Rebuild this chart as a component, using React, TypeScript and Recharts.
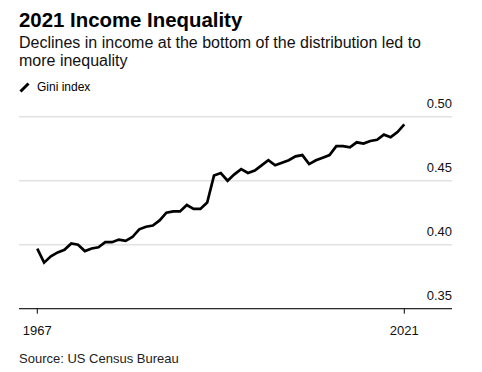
import { CartesianGrid, Line, LineChart, XAxis, YAxis } from 'recharts';

const FONT = '"Liberation Sans", Arial, sans-serif';

const anios = [
  1967, 1968, 1969, 1970, 1971, 1972, 1973, 1974, 1975, 1976,
  1977, 1978, 1979, 1980, 1981, 1982, 1983, 1984, 1985, 1986,
  1987, 1988, 1989, 1990, 1991, 1992, 1993, 1994, 1995, 1996,
  1997, 1998, 1999, 2000, 2001, 2002, 2003, 2004, 2005, 2006,
  2007, 2008, 2009, 2010, 2011, 2012, 2013, 2014, 2015, 2016,
  2017, 2018, 2019, 2020, 2021,
];

const gini = [
  0.397, 0.386, 0.391, 0.394, 0.396, 0.401, 0.400, 0.395, 0.397, 0.398,
  0.402, 0.402, 0.404, 0.403, 0.406, 0.412, 0.414, 0.415, 0.419, 0.425,
  0.426, 0.426, 0.431, 0.428, 0.428, 0.433, 0.454, 0.456, 0.450, 0.455,
  0.459, 0.456, 0.458, 0.462, 0.466, 0.462, 0.464, 0.466, 0.469, 0.470,
  0.463, 0.466, 0.468, 0.470, 0.477, 0.477, 0.476, 0.480, 0.479, 0.481,
  0.482, 0.486, 0.484, 0.488, 0.494,
];

const ticksX = [1967, 2021];
const ticksY = [0.35, 0.4, 0.45, 0.5];

const datos = anios.map((year, i) => ({ year, gini: gini[i] }));

// etiqueta del eje Y: encima de la línea de cuadrícula, alineada a la derecha
function TickY({ x, y, payload }: any) {
  return (
    <text x={x} y={y - 8.4} textAnchor="end" fill="#111" fontSize={13} fontFamily={FONT}>
      {payload.value.toFixed(2)}
    </text>
  );
}

export default function App() {
  return (
    <div
      style={{
        position: 'absolute',
        left: 0,
        top: 0,
        width: 482,
        height: 372,
        background: '#fff',
        fontFamily: FONT,
        color: '#000',
      }}
    >
      <div style={{ position: 'absolute', left: 19, top: 7.8, fontSize: 20.4, lineHeight: '24px', fontWeight: 700 }}>
        2021 Income Inequality
      </div>
      <div style={{ position: 'absolute', left: 19, top: 33.5, width: 440, fontSize: 16, lineHeight: '18.5px', color: '#111' }}>
        Declines in income at the bottom of the distribution led to more inequality
      </div>
      <div style={{ position: 'absolute', left: 19, top: 79.5, fontSize: 12, lineHeight: '14px', display: 'flex', alignItems: 'center' }}>
        <svg width={12} height={12} style={{ marginRight: 6 }}>
          <line x1={1.5} y1={10.5} x2={9.5} y2={2.5} stroke="#000" strokeWidth={3} />
        </svg>
        <span style={{ marginLeft: 0 }}>Gini index</span>
      </div>

      <div style={{ position: 'absolute', left: 0, top: 0 }}>
        <LineChart
          width={482}
          height={372}
          data={datos}
          margin={{ top: 116.7, right: 30, bottom: 33.3, left: 19 }}
        >
          <CartesianGrid vertical={false} stroke="#e2e2e2" strokeWidth={1.6} />
          <XAxis
            dataKey="year"
            type="number"
            domain={[1964.31, 2028.02]}
            ticks={ticksX}
            height={30}
            tickSize={5}
            tickMargin={12}
            axisLine={{ stroke: '#000', strokeWidth: 1 }}
            tickLine={{ stroke: '#000', strokeWidth: 1 }}
            tick={{ fill: '#111', fontSize: 13, fontFamily: FONT }}
          />
          <YAxis
            orientation="right"
            mirror
            domain={[0.35, 0.5]}
            ticks={ticksY}
            axisLine={false}
            tickLine={false}
            tickSize={0}
            tickMargin={0}
            tick={<TickY />}
          />
          <Line
            dataKey="gini"
            type="linear"
            stroke="#000"
            strokeWidth={2.7}
            dot={false}
            isAnimationActive={false}
          />
        </LineChart>
      </div>

      <div style={{ position: 'absolute', left: 19, top: 351, fontSize: 13, lineHeight: '15px', color: '#222' }}>
        Source: US Census Bureau
      </div>
    </div>
  );
}
